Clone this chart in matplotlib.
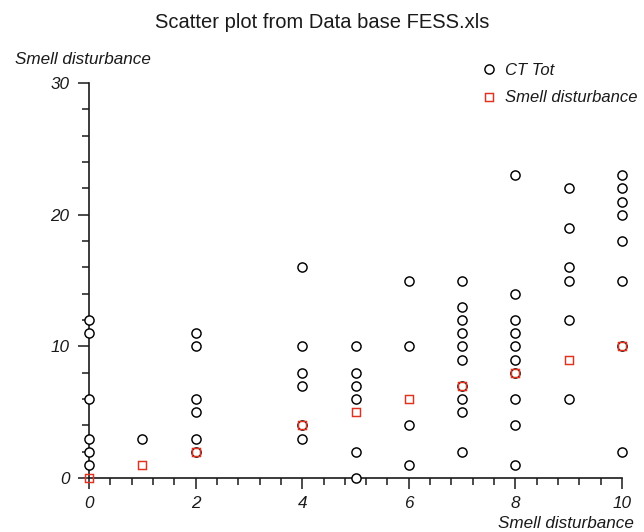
import numpy as np
import matplotlib
matplotlib.use("Agg")
import matplotlib.pyplot as plt
from matplotlib.ticker import MultipleLocator

plt.rcParams['font.family'] = ['Liberation Sans', 'DejaVu Sans']

# CT Tot (open circles)
ct_x = [0, 0, 0, 0, 0, 0,
        1,
        2, 2, 2, 2, 2, 2,
        4, 4, 4, 4, 4, 4,
        5, 5, 5, 5, 5, 5,
        6, 6, 6, 6,
        7, 7, 7, 7, 7, 7, 7, 7, 7, 7,
        8, 8, 8, 8, 8, 8, 8, 8, 8, 8,
        9, 9, 9, 9, 9, 9,
        10, 10, 10, 10, 10, 10, 10, 10]
ct_y = [1, 2, 3, 6, 11, 12,
        3,
        2, 3, 5, 6, 10, 11,
        3, 4, 7, 8, 10, 16,
        0, 2, 6, 7, 8, 10,
        1, 4, 10, 15,
        2, 5, 6, 7, 9, 10, 11, 12, 13, 15,
        1, 4, 6, 8, 9, 10, 11, 12, 14, 23,
        6, 12, 15, 16, 19, 22,
        2, 10, 15, 18, 20, 21, 22, 23]

# Smell disturbance (open squares)
sd_x = [0, 1, 2, 4, 5, 6, 7, 8, 9, 10]
sd_y = [0, 1, 2, 4, 5, 6, 7, 8, 9, 10]

x_ticks = [0, 2, 4, 6, 8, 10]
y_ticks = [0, 10, 20, 30]

red = '#e0321e'
ink = '#1a1a1a'

fig = plt.figure(figsize=(6.44, 5.32), dpi=100)
ax = fig.add_axes([89 / 644, 54 / 532, 533 / 644, 395 / 532])

ax.plot(ct_x, ct_y, 'o', mfc='white', mec='black', ms=6.6, mew=1.05,
        clip_on=False, zorder=3, label='CT Tot')
ax.plot(sd_x, sd_y, 's', mfc='none', mec=red, ms=6.4, mew=1.05,
        clip_on=False, zorder=4, label='Smell disturbance')

ax.set_xlim(0, 10)
ax.set_ylim(0, 30)
ax.set_xticks(x_ticks)
ax.set_yticks(y_ticks)
ax.xaxis.set_minor_locator(MultipleLocator(0.4))
ax.yaxis.set_minor_locator(MultipleLocator(2))
ax.set_xticklabels([str(v) for v in x_ticks], fontstyle='italic', fontsize=12.3)
ax.set_yticklabels([str(v) for v in y_ticks], fontstyle='italic', fontsize=12.3)
ax.tick_params(axis='x', which='major', pad=5)
ax.tick_params(axis='y', which='major', pad=6)
ax.tick_params(which='major', length=8, width=1.1, color=ink, labelcolor=ink)
ax.tick_params(which='minor', length=5, width=1.1, color=ink)

for s in ['top', 'right']:
    ax.spines[s].set_visible(False)
for s in ['left', 'bottom']:
    ax.spines[s].set_linewidth(1.2)
    ax.spines[s].set_color(ink)

fig.text(0.5, 1 - 22 / 532, 'Scatter plot from Data base FESS.xls',
         ha='center', va='center', fontsize=14.5, color=ink)
fig.text(83 / 644, 1 - 60 / 532, 'Smell disturbance', ha='center', va='center',
         fontsize=12.3, fontstyle='italic', color=ink)
fig.text(634 / 644, 1 - 524 / 532, 'Smell disturbance', ha='right', va='center',
         fontsize=12.3, fontstyle='italic', color=ink)

leg = ax.legend(loc='upper left', bbox_to_anchor=(481 / 644, 1 - 63 / 532),
                bbox_transform=fig.transFigure, frameon=False, numpoints=1,
                handlelength=1.0, handletextpad=0.45, labelspacing=0.75,
                borderaxespad=0, borderpad=0,
                prop={'size': 12, 'style': 'italic'})
for t in leg.get_texts():
    t.set_color(ink)

fig.savefig('out.png', dpi=100)
